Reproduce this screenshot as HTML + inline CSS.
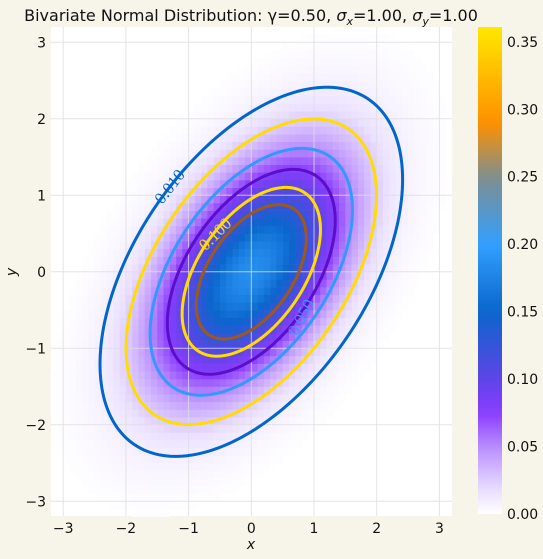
<!DOCTYPE html>
<html><head><meta charset="utf-8"><style>
html,body{margin:0;padding:0;background:#f7f5e9;}
svg{display:block;font-family:"DejaVu Sans","Liberation Sans",sans-serif;}
</style></head><body>
<svg id="chart" width="543" height="559" viewBox="0 0 543 559" xmlns="http://www.w3.org/2000/svg">
<rect x="0" y="0" width="543" height="559" fill="#f7f5e9"/>
<text x="251" y="21" text-anchor="middle" font-size="16" fill="#111">Bivariate Normal Distribution: γ=0.50, <tspan font-style="italic">σ</tspan><tspan font-size="11" dy="4" font-style="italic">x</tspan><tspan dy="-4">=1.00, </tspan><tspan font-style="italic">σ</tspan><tspan font-size="11" dy="4" font-style="italic">y</tspan><tspan dy="-4">=1.00</tspan></text>
<rect x="51" y="27" width="401" height="489" fill="#ffffff"/>
<g id="heat"></g>
<g id="grid"></g>
<g id="contours"></g>
<g id="axes"></g>
<text x="251" y="549" text-anchor="middle" font-size="14" font-style="italic" fill="#111">x</text>
<text x="16" y="272" text-anchor="middle" font-size="14" font-style="italic" fill="#111" transform="rotate(-90 16 272)">y</text>
<defs><linearGradient id="cbg" x1="0" y1="1" x2="0" y2="0"></linearGradient></defs>
<rect x="478" y="27" width="24" height="487" fill="url(#cbg)"/>
<g id="cbticks"></g>
</svg>
<script>
const gamma = 0.5;
const sigmaX = 1.0;
const sigmaY = 1.0;
const contourLevels = [0.01, 0.025, 0.05, 0.075, 0.1, 0.125];
const contourColors = ["#0066cc", "#ffdd00", "#3399ff", "#5a0fc8", "#ffdd00", "#a0581a"];
const contourLabels = ["0.010", "", "0.050", "", "0.100", ""];
const xTicks = [-3, -2, -1, 0, 1, 2, 3];
const yTicks = [-3, -2, -1, 0, 1, 2, 3];
const cbTicks = [0, 0.05, 0.1, 0.15, 0.2, 0.25, 0.3, 0.35];
const cbTickLabels = ["0.00", "0.05", "0.10", "0.15", "0.20", "0.25", "0.30", "0.35"];
const cmapVals = [0, 0.02, 0.05, 0.075, 0.1, 0.15, 0.2, 0.25, 0.29, 0.361];
const cmapCols = ["#ffffff", "#e6d9ff", "#b98cff", "#8a3cff", "#5e44e6", "#0a66cc", "#33a0ff", "#7f8f8f", "#ff9000", "#ffe800"];

const NS = "http://www.w3.org/2000/svg";
const X = v => 251.3 + v * 62.7;
const Y = v => 271.8 - v * 76.5;
const CB = v => 514 - v / 0.361 * 487;
function mk(tag, attrs, parent) { const e = document.createElementNS(NS, tag); for (const k in attrs) e.setAttribute(k, attrs[k]); parent.appendChild(e); return e; }
function hex(c){return [parseInt(c.slice(1,3),16),parseInt(c.slice(3,5),16),parseInt(c.slice(5,7),16)];}
function cmap(v){
  if (v <= cmapVals[0]) return cmapCols[0];
  for (let i = 1; i < cmapVals.length; i++) {
    if (v <= cmapVals[i]) {
      const t = (v - cmapVals[i-1]) / (cmapVals[i] - cmapVals[i-1]);
      const a = hex(cmapCols[i-1]), b = hex(cmapCols[i]);
      return "rgb(" + a.map((x, j) => Math.round(x + (b[j] - x) * t)).join(",") + ")";
    }
  }
  return cmapCols[cmapCols.length - 1];
}
const norm = 1 / (2 * Math.PI * sigmaX * sigmaY * Math.sqrt(1 - gamma * gamma));
function dens(x, y){
  const a = x / sigmaX, b = y / sigmaY;
  const q = (a*a - 2*gamma*a*b + b*b) / (1 - gamma*gamma);
  return norm * Math.exp(-q / 2);
}
// heatmap
const heat = document.getElementById("heat");
for (let i = 0; i < 64; i++) for (let j = 0; j < 64; j++) {
  const x0 = -3.2 + i * 0.1, y0 = -3.2 + j * 0.1;
  const d = dens(x0 + 0.05, y0 + 0.05);
  if (d < 0.0012) continue;
  const shown = d < 0.02 ? d * 0.9 : d;
  const r = mk("rect", {x: X(x0).toFixed(2), y: Y(y0 + 0.1).toFixed(2), width: (0.1*62.7+0.3).toFixed(2), height: (0.1*76.5+0.3).toFixed(2), fill: cmap(shown)}, heat);
  
  
}
// grid
const grid = document.getElementById("grid");
xTicks.forEach(t => {
  const l = mk("line", {x1: X(t), x2: X(t), y1: 27, y2: 516, stroke: "#dddddd", "stroke-width": 1, "stroke-opacity": 0.8}, grid);
  
  
});
yTicks.forEach(t => {
  const l = mk("line", {x1: 51, x2: 452, y1: Y(t), y2: Y(t), stroke: "#dddddd", "stroke-width": 1, "stroke-opacity": 0.8}, grid);
  
  
});
// contours
const cg = document.getElementById("contours");
const rho = gamma, k = Math.sqrt(1 - rho*rho);
contourLevels.forEach((L, idx) => {
  const Q = -2 * Math.log(L / norm);
  const s = Math.sqrt(Q);
  let pts = [];
  for (let n = 0; n <= 200; n++) {
    const t = n / 200 * 2 * Math.PI;
    const u = Math.cos(t), w = Math.sin(t);
    const x = s * sigmaX * u;
    const y = s * sigmaY * (rho * u + k * w);
    pts.push(X(x).toFixed(2) + "," + Y(y).toFixed(2));
  }
  const p = mk("polyline", {points: pts.join(" "), fill: "none", stroke: contourColors[idx], "stroke-width": 3}, cg);
  
  
});
// contour labels
const labelPos = [[174, 190, -52, 0], [306, 320, -62, 2], [219, 238, -45, 4]];
labelPos.forEach(([lx, ly, ang, idx]) => {
  const t = mk("text", {x: lx, y: ly, "text-anchor": "middle", "font-size": 17, "font-family": "Liberation Serif, serif", fill: contourColors[idx], transform: "rotate(" + ang + " " + lx + " " + ly + ")"}, cg);
  t.textContent = contourLabels[idx];
  
  
});
// axes tick labels
const ax = document.getElementById("axes");
xTicks.forEach(t => {
  const e = mk("text", {x: X(t), y: 533, "text-anchor": "middle", "font-size": 14, fill: "#111"}, ax);
  e.textContent = t < 0 ? "\u2212" + Math.abs(t) : String(t);
  
  
});
yTicks.forEach(t => {
  const e = mk("text", {x: 46, y: Y(t) + 5, "text-anchor": "end", "font-size": 14, fill: "#111"}, ax);
  e.textContent = t < 0 ? "\u2212" + Math.abs(t) : String(t);
  
  
});
// colorbar
const grad = document.getElementById("cbg");
for (let n = 0; n <= 40; n++) {
  const v = n / 40 * 0.361;
  mk("stop", {offset: (n / 40 * 100) + "%", "stop-color": cmap(v)}, grad);
}
const cbt = document.getElementById("cbticks");
cbTicks.forEach((v, i) => {
  const e = mk("text", {x: 507, y: CB(v) + 5, "font-size": 14, fill: "#111"}, cbt);
  e.textContent = cbTickLabels[i];
  
  
});
</script>
</body></html>
